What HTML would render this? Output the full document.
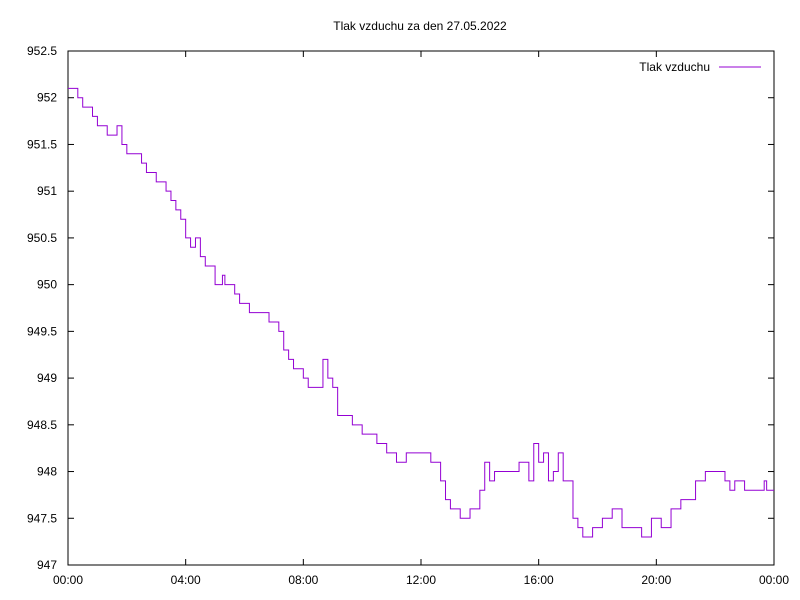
<!DOCTYPE html>
<html><head><meta charset="utf-8"><style>
body{margin:0;background:#fff}
svg{display:block;font-family:"Liberation Sans",sans-serif;font-size:12px}
</style></head><body>
<svg id="chart" width="800" height="600">
<rect width="800" height="600" fill="#fff"/>
<text x="420" y="30" text-anchor="middle">Tlak vzduchu za den 27.05.2022</text>
<g id="axes"></g>
<path id="series" fill="none" stroke="#9400d3" stroke-width="1"/>
<g>
<text x="710" y="71" text-anchor="end">Tlak vzduchu</text>
<line x1="719" y1="67" x2="761" y2="67" stroke="#9400d3"/>
</g>
</svg>
<script>
const times=["0:00","0:20","0:30","0:50","1:00","1:20","1:40","1:50","2:00","2:20","2:30","2:40","3:00","3:20","3:30","3:40","3:50","4:00","4:10","4:20","4:30","4:40","5:00","5:15","5:20","5:40","5:50","6:10","6:30","6:50","7:10","7:20","7:30","7:40","8:00","8:10","8:20","8:30","8:40","8:50","9:00","9:10","9:20","9:30","9:40","10:00","10:20","10:30","10:50","11:10","11:30","12:00","12:20","12:40","12:50","13:00","13:20","13:40","14:00","14:10","14:20","14:30","15:00","15:20","15:40","15:50","16:00","16:10","16:20","16:30","16:40","16:50","17:10","17:20","17:30","17:50","18:10","18:30","18:50","19:10","19:30","19:50","20:10","20:30","20:50","21:10","21:20","21:40","22:00","22:20","22:30","22:40","23:00","23:20","23:40","23:45","24:00"];
const values=[952.1,952.0,951.9,951.8,951.7,951.6,951.7,951.5,951.4,951.4,951.3,951.2,951.1,951.0,950.9,950.8,950.7,950.5,950.4,950.5,950.3,950.2,950.0,950.1,950.0,949.9,949.8,949.7,949.7,949.6,949.5,949.3,949.2,949.1,949.0,948.9,948.9,948.9,949.2,949.0,948.9,948.6,948.6,948.6,948.5,948.4,948.4,948.3,948.2,948.1,948.2,948.2,948.1,947.9,947.7,947.6,947.5,947.6,947.8,948.1,947.9,948.0,948.0,948.1,947.9,948.3,948.1,948.2,947.9,948.0,948.2,947.9,947.5,947.4,947.3,947.4,947.5,947.6,947.4,947.4,947.3,947.5,947.4,947.6,947.7,947.7,947.9,948.0,948.0,947.9,947.8,947.9,947.8,947.8,947.9,947.8,947.8];
const yTicks=[947,947.5,948,948.5,949,949.5,950,950.5,951,951.5,952,952.5];
const xTickLabels=["00:00","04:00","08:00","12:00","16:00","20:00","00:00"];
const X0=68,X1=774,Y0=565,Y1=51;
const xs=h=>X0+(X1-X0)*h/24;
const ys=v=>Y0-(Y0-Y1)*(v-947)/5.5;
const hrs=t=>{const[a,b]=t.split(':').map(Number);return a+b/60;};
const ns="http://www.w3.org/2000/svg";
const ax=document.getElementById('axes');
function mk(tag,attrs){const e=document.createElementNS(ns,tag);for(const k in attrs)e.setAttribute(k,attrs[k]);ax.appendChild(e);return e;}
const fr=mk('rect',{x:X0,y:Y1,width:X1-X0,height:Y0-Y1,fill:'none',stroke:'#000'});


yTicks.forEach(v=>{const y=ys(v);
mk('line',{x1:X0,y1:y,x2:X0+6,y2:y,stroke:'#000'});mk('line',{x1:X1,y1:y,x2:X1-6,y2:y,stroke:'#000'});
const t=mk('text',{x:X0-11,y:y+4,'text-anchor':'end'});t.textContent=String(v);

});
xTickLabels.forEach((l,i)=>{const x=xs(i*4);
mk('line',{x1:x,y1:Y0,x2:x,y2:Y0-6,stroke:'#000'});mk('line',{x1:x,y1:Y1,x2:x,y2:Y1+6,stroke:'#000'});
const t=mk('text',{x:x,y:Y0+19,'text-anchor':'middle'});t.textContent=l;

});
let d='';
times.forEach((t,i)=>{const x=xs(hrs(t)),y=ys(values[i]);
if(i===0)d+='M'+x+','+y;else d+='H'+x+'V'+y;});
document.getElementById('series').setAttribute('d',d);
</script>
</body></html>
